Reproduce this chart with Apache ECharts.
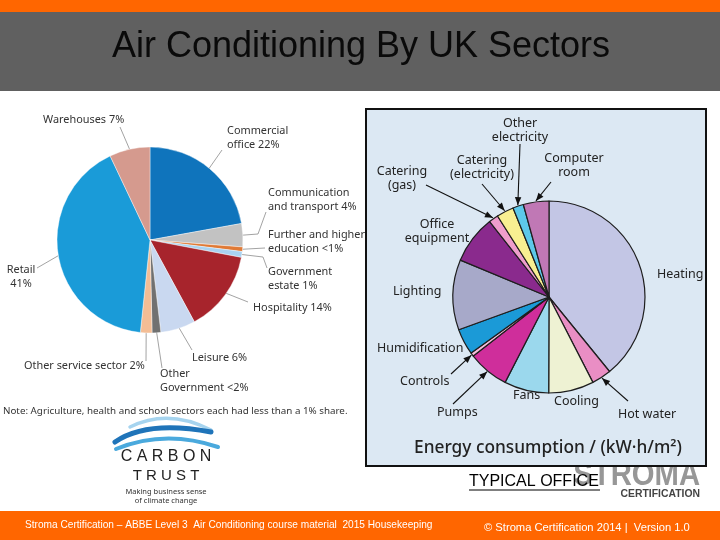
<!DOCTYPE html>
<html><head><meta charset="utf-8">
<script src="https://cdn.jsdelivr.net/npm/echarts@6/dist/echarts.min.js"></script>
<style>html,body{margin:0;padding:0;background:#fff}#c{width:720px;height:540px}</style>
</head><body><div id="c"></div>
<script>
// ---------------- DATA ----------------
const slideTitle = 'Air Conditioning By UK Sectors';
const sectorLabels = ['Commercial\noffice 22%', 'Communication\nand transport 4%', 'Further and higher\neducation <1%', 'Government\nestate 1%', 'Hospitality 14%', 'Leisure 6%', 'Other\nGovernment <2%', 'Other service sector 2%', 'Retail\n41%', 'Warehouses 7%'];
const sectorShares = [22, 4, 0.8, 1, 14, 6, 1.5, 2, 41, 7];
const sectorNote = 'Note: Agriculture, health and school sectors each had less than a 1% share.';

const endUseLabels = ['Heating', 'Hot water', 'Cooling', 'Fans', 'Pumps', 'Controls', 'Humidification', 'Lighting', 'Office\nequipment', 'Catering\n(gas)', 'Catering\n(electricity)', 'Other\nelectricity', 'Computer\nroom'];
const endUseValues = [39.1, 3.3, 7.6, 7.5, 6.9, 0.6, 4.4, 11.8, 8.1, 1.6, 2.9, 1.8, 4.3];
const endUseAxisTitle = 'Energy consumption / (kW\u00b7h/m\u00b2)';
const subCaption = 'TYPICAL OFFICE';
const footerLeft = 'Stroma Certification \u2013 ABBE Level 3  Air Conditioning course material  2015 Housekeeping';
const footerRight = '\u00a9 Stroma Certification 2014 |  Version 1.0';

// ---------------- LAYOUT / STYLE ----------------
const LEFT = {
  center: [150, 240], r: 93,
  colors: ['#0f74bc', '#c2c2c2', '#e07a36', '#a9d2f1', '#a7242c', '#c9d8f0', '#717171', '#f3bd95', '#1a9bd8', '#d59a8e'],
  labels: [
    {x: 227, y: 137.5, align: 'left', f: 0.93, line: [[222, 150]]},
    {x: 268, y: 200, align: 'left', f: 1.0, line: [[258, 234], [266, 212]]},
    {x: 268, y: 242, align: 'left', f: 1.0, line: [[265, 248]]},
    {x: 268, y: 279, align: 'left', f: 1.0, line: [[263, 257], [267, 268]]},
    {x: 253, y: 308, align: 'left', f: 0.92, line: [[248, 302]]},
    {x: 192, y: 358, align: 'left', f: 0.94, line: [[192, 350]]},
    {x: 160, y: 381, align: 'left', f: 0.97, line: [[162, 368]]},
    {x: 24, y: 366, align: 'left', f: 1.0, line: [[146, 361]]},
    {x: 21, y: 277, align: 'center', f: 1.0, line: [[37, 268]]},
    {x: 43, y: 120, align: 'left', f: 1.0, line: [[120, 127]]}
  ]
};
const RIGHT = {
  center: [549, 297], r: 96,
  colors: ['#c3c6e5', '#e98ec4', '#eef2d3', '#9bd8ed', '#cf2e9b', '#f7bfdc', '#1b9ad7', '#a7a9c9', '#8a2a8d', '#ef9dcc', '#f8ef91', '#5dc8e9', '#c078b5'],
  labels: [
    {x: 657, y: 274, align: 'left'},
    {x: 618, y: 414, align: 'left', arrow: [628, 401]},
    {x: 554, y: 401, align: 'left'},
    {x: 513, y: 395, align: 'left'},
    {x: 437, y: 412, align: 'left', arrow: [453, 404]},
    {x: 400, y: 381, align: 'left', arrow: [451, 374]},
    {x: 377, y: 348, align: 'left'},
    {x: 393, y: 291, align: 'left'},
    {x: 437, y: 231.5, align: 'center'},
    {x: 402, y: 178, align: 'center', arrow: [426, 185]},
    {x: 482, y: 167, align: 'center', arrow: [482, 184]},
    {x: 520, y: 130.5, align: 'center', arrow: [520, 144]},
    {x: 574, y: 165.5, align: 'center', arrow: [551, 182]}
  ]
};

function midAngles(vals) {
  const s = vals.reduce((a, b) => a + b, 0);
  let acc = 0;
  return vals.map(v => { const m = (acc + v / 2) / s * 360; acc += v; return m; });
}
function polar(c, r, deg) {
  const a = deg * Math.PI / 180;
  return [c[0] + r * Math.sin(a), c[1] - r * Math.cos(a)];
}
const leftMid = midAngles(sectorShares);
const rightMid = midAngles(endUseValues);

const arrowHeads = [];
RIGHT.labels.forEach((L, i) => {
  if (!L.arrow) return;
  const tip = polar(RIGHT.center, RIGHT.r + 1, rightMid[i]);
  const dx = tip[0] - L.arrow[0], dy = tip[1] - L.arrow[1];
  const len = Math.hypot(dx, dy), ux = dx / len, uy = dy / len;
  const b = [tip[0] - ux * 8, tip[1] - uy * 8];
  arrowHeads.push({
    type: 'polygon', z: 100, silent: true,
    shape: {points: [tip, [b[0] - uy * 3.2, b[1] + ux * 3.2], [b[0] + uy * 3.2, b[1] - ux * 3.2]]},
    style: {fill: '#111'}
  });
});

const chart = echarts.init(document.getElementById('c'), null, {renderer: 'canvas'});
chart.setOption({
  animation: false,
  backgroundColor: '#ffffff',
  graphic: [
    {type: 'rect', z: 0, shape: {x: 0, y: 0, width: 720, height: 12}, style: {fill: '#ff6600'}},
    {type: 'rect', z: 0, shape: {x: 0, y: 12, width: 720, height: 79}, style: {fill: '#606060'}},
    {type: 'text', z: 1, x: 361, y: 47, style: {text: slideTitle, fill: '#0a0a0a', font: '36px "Liberation Sans", Arial, sans-serif', align: 'center', verticalAlign: 'middle'}},
    // Stroma logo (partly under the box)
    {type: 'text', z: 0, x: 700, y: 476, scaleX: 0.86, style: {text: 'STROMA', fill: '#979797', font: 'bold 34px "Liberation Sans", Arial, sans-serif', align: 'right', verticalAlign: 'middle'}},
    {type: 'text', z: 1, x: 700, y: 494, style: {text: 'CERTIFICATION', fill: '#444', font: 'bold 10.4px "Liberation Sans", Arial, sans-serif', align: 'right', verticalAlign: 'middle'}},
    {type: 'rect', z: 1, shape: {x: 366, y: 109, width: 340, height: 357}, style: {fill: '#dce8f3', stroke: '#111', lineWidth: 2}},
    {type: 'text', z: 2, x: 548, y: 448, style: {text: endUseAxisTitle, fill: '#222', font: '500 17.3px "Noto Sans", sans-serif', align: 'center', verticalAlign: 'middle'}},
    {type: 'text', z: 1, x: 3, y: 411, style: {text: sectorNote, fill: '#333', font: '9.8px "Noto Sans", sans-serif', align: 'left', verticalAlign: 'middle'}},
    // Carbon Trust logo
    {type: 'bezierCurve', z: 1, shape: {x1: 130, y1: 427, cpx1: 168, cpy1: 408, x2: 211, y2: 430}, style: {stroke: '#a6d4ef', lineWidth: 3.5, fill: null, lineCap: 'round'}},
    {type: 'bezierCurve', z: 1, shape: {x1: 115, y1: 442, cpx1: 147, cpy1: 420, x2: 211, y2: 432}, style: {stroke: '#1f74b9', lineWidth: 5, fill: null, lineCap: 'round'}},
    {type: 'bezierCurve', z: 1, shape: {x1: 116, y1: 449, cpx1: 165, cpy1: 429, x2: 218, y2: 447}, style: {stroke: '#4aa9dd', lineWidth: 4, fill: null, lineCap: 'round'}},
    {type: 'text', z: 1, x: 166, y: 457, style: {text: 'C A R B O N', fill: '#222', font: '16px "Liberation Sans", Arial, sans-serif', align: 'center', verticalAlign: 'middle'}},
    {type: 'text', z: 1, x: 166, y: 476, style: {text: 'T R U S T', fill: '#222', font: '15px "Liberation Sans", Arial, sans-serif', align: 'center', verticalAlign: 'middle'}},
    {type: 'text', z: 1, x: 166, y: 492, style: {text: 'Making business sense', fill: '#333', font: '7.5px "Noto Sans", sans-serif', align: 'center', verticalAlign: 'middle'}},
    {type: 'text', z: 1, x: 166, y: 501, style: {text: 'of climate change', fill: '#333', font: '7.5px "Noto Sans", sans-serif', align: 'center', verticalAlign: 'middle'}},
    // caption
    {type: 'text', z: 3, x: 469, y: 482, style: {text: subCaption, fill: '#000', font: '16px "Liberation Sans", Arial, sans-serif', align: 'left', verticalAlign: 'middle'}},
    {type: 'line', z: 3, shape: {x1: 469, y1: 490, x2: 600, y2: 490}, style: {stroke: '#000', lineWidth: 1.2}},
    // footer
    {type: 'rect', z: 0, shape: {x: 0, y: 511, width: 720, height: 29}, style: {fill: '#ff6600'}},
    {type: 'text', z: 1, x: 25, y: 525, style: {text: footerLeft, fill: '#fff', font: '10.15px "Liberation Sans", Arial, sans-serif', align: 'left', verticalAlign: 'middle'}},
    {type: 'text', z: 1, x: 484, y: 528, style: {text: footerRight, fill: '#fff', font: '11.2px "Liberation Sans", Arial, sans-serif', align: 'left', verticalAlign: 'middle'}}
  ].concat(arrowHeads),
  series: [
    {
      type: 'pie', z: 5, center: LEFT.center, radius: LEFT.r, startAngle: 90, clockwise: true,
      avoidLabelOverlap: false, silent: true, emphasis: {disabled: true},
      data: sectorShares.map((v, i) => ({value: v, name: sectorLabels[i], itemStyle: {color: LEFT.colors[i]}})),
      itemStyle: {borderColor: '#ffffff', borderWidth: 0.4},
      label: {show: true, formatter: p => sectorLabels[p.dataIndex], color: '#333', fontFamily: '"Noto Sans", sans-serif', fontSize: 10.9, lineHeight: 14},
      labelLine: {show: true, lineStyle: {color: '#8c8c8c', width: 0.8}},
      labelLayout: p => {
        const L = LEFT.labels[p.dataIndex];
        const a = polar(LEFT.center, LEFT.r * L.f, leftMid[p.dataIndex]);
        return {x: L.x, y: L.y, align: L.align, verticalAlign: 'middle', labelLinePoints: [a].concat(L.line)};
      }
    },
    {
      type: 'pie', z: 5, center: RIGHT.center, radius: RIGHT.r, startAngle: 90, clockwise: true,
      avoidLabelOverlap: false, silent: true, emphasis: {disabled: true},
      data: endUseValues.map((v, i) => ({value: v, name: endUseLabels[i], itemStyle: {color: RIGHT.colors[i]}, labelLine: {show: !!RIGHT.labels[i].arrow}})),
      itemStyle: {borderColor: '#1e1e1e', borderWidth: 1.2},
      label: {show: true, formatter: p => endUseLabels[p.dataIndex], color: '#222', fontFamily: '"Noto Sans", sans-serif', fontSize: 12.5, lineHeight: 14, align: 'center'},
      labelLine: {lineStyle: {color: '#111', width: 1.1}},
      labelLayout: p => {
        const i = p.dataIndex, L = RIGHT.labels[i];
        const out = {x: L.x, y: L.y, align: L.align, verticalAlign: 'middle'};
        if (L.arrow) {
          const tip = polar(RIGHT.center, RIGHT.r + 1, rightMid[i]);
          out.labelLinePoints = [tip, L.arrow];
        }
        return out;
      }
    }
  ]
});
</script>
</body></html>
